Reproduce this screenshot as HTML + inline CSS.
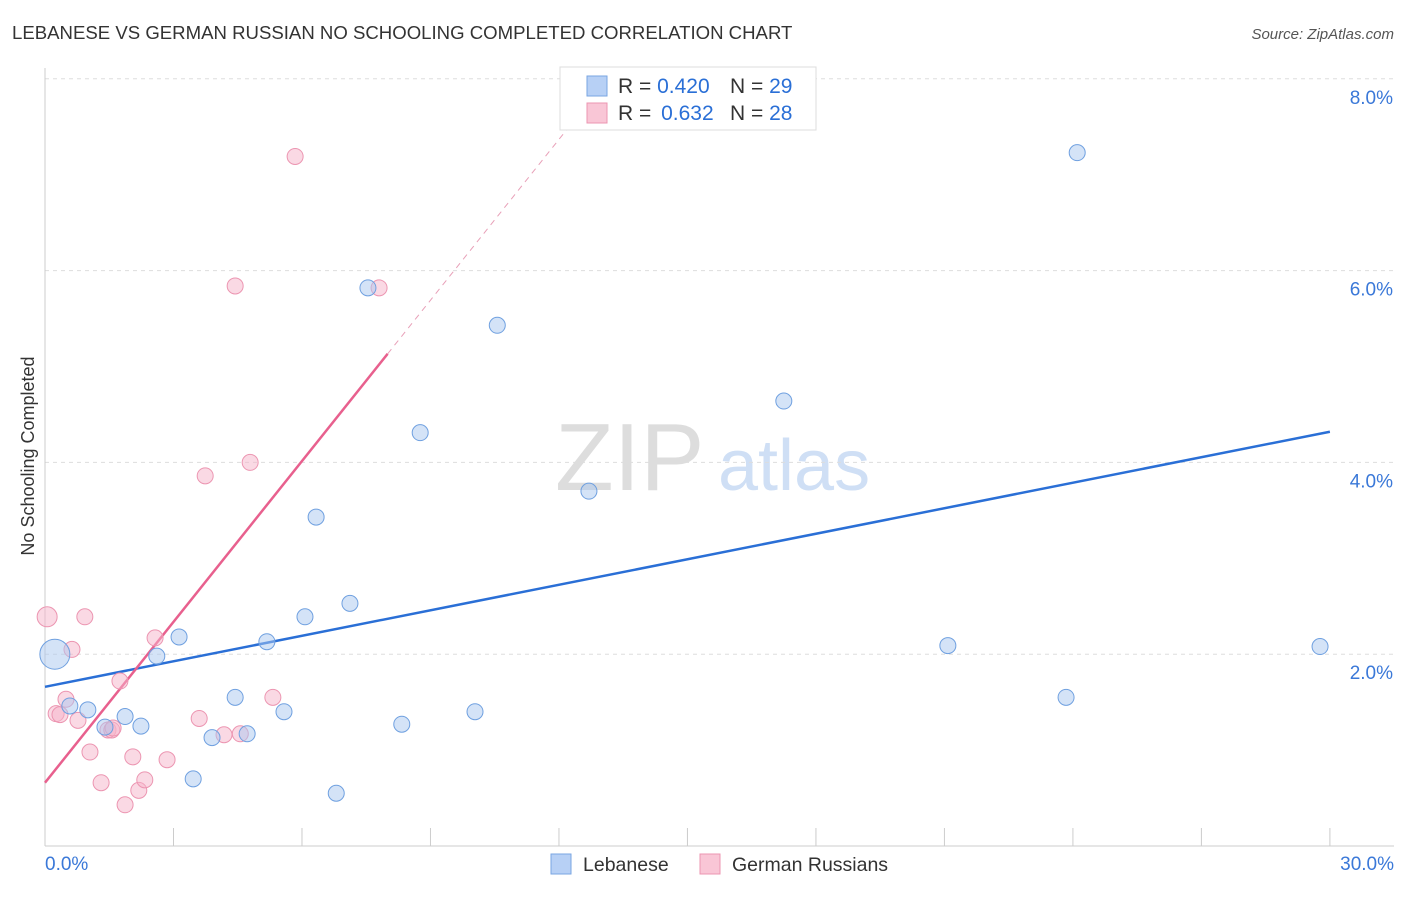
<!DOCTYPE html>
<html><head><meta charset="utf-8"><style>
body{margin:0;background:#fff;font-family:"Liberation Sans",sans-serif}
svg text{font-family:"Liberation Sans",sans-serif}
</style></head><body>
<svg id="c" width="1406" height="892">
<text x="12" y="39" font-size="18.6" fill="#333">LEBANESE VS GERMAN RUSSIAN NO SCHOOLING COMPLETED CORRELATION CHART</text>
<text x="1394" y="39" font-size="15" fill="#555" font-style="italic" text-anchor="end">Source: ZipAtlas.com</text>
<text x="34" y="456" font-size="18" fill="#333" text-anchor="middle" transform="rotate(-90 34 456)">No Schooling Completed</text>
<text x="555" y="490" font-size="96" fill="#ddd" font-family="Liberation Serif">ZIP</text>
<text x="718" y="490" font-size="72" fill="#cfdff5">atlas</text>
<g id="grid"></g><g id="axes"></g><g id="lines"></g><g id="pts"></g>
<g>
<rect x="560" y="67" width="256" height="63" fill="#fff" stroke="#ddd"/>
<rect x="587" y="76" width="20" height="20" fill="#b7d0f5" stroke="#7aa6e2"/>
<rect x="587" y="103" width="20" height="20" fill="#f9c6d6" stroke="#ec95b1"/>
<text x="618" y="93" font-size="21" fill="#333">R = <tspan fill="#2a6fd6">0.420</tspan><tspan x="730">N = </tspan><tspan fill="#2a6fd6">29</tspan></text>
<text x="618" y="120" font-size="21" fill="#333">R = <tspan fill="#2a6fd6" dx="4">0.632</tspan><tspan x="730">N = </tspan><tspan fill="#2a6fd6">28</tspan></text>
</g>
<g>
<rect x="551" y="854" width="20" height="20" fill="#b7d0f5" stroke="#7aa6e2"/>
<text x="583" y="871" font-size="19.5" fill="#333">Lebanese</text>
<rect x="700" y="854" width="20" height="20" fill="#f9c6d6" stroke="#ec95b1"/>
<text x="732" y="871" font-size="19.5" fill="#333">German Russians</text>
</g>
</svg>
<script>
const lebX=[0.23,0.58,1.0,1.40,1.87,2.24,2.61,3.13,3.46,3.90,4.44,4.72,5.18,5.58,6.07,6.33,6.80,7.12,7.54,8.33,8.76,10.04,10.56,12.70,17.25,21.08,23.84,24.10,29.77];
const lebY=[2.0,1.46,1.42,1.24,1.35,1.25,1.98,2.18,0.70,1.13,1.55,1.17,2.13,1.40,2.39,3.43,0.55,2.53,5.82,1.27,4.31,1.40,5.43,3.70,4.64,2.09,1.55,7.23,2.08];
const lebR=[15,8,8,8,8,8,8,8,8,8,8,8,8,8,8,8,8,8,8,8,8,8,8,8,8,8,8,8,8];
const gerX=[0.05,0.26,0.35,0.49,0.63,0.77,0.93,1.05,1.31,1.47,1.56,1.75,1.87,2.05,2.19,2.33,2.57,2.85,3.60,3.74,4.18,4.44,4.56,4.79,5.32,5.84,7.80,1.59];
const gerY=[2.39,1.38,1.37,1.53,2.05,1.31,2.39,0.98,0.66,1.21,1.21,1.72,0.43,0.93,0.58,0.69,2.17,0.90,1.33,3.86,1.16,5.84,1.17,4.00,1.55,7.19,5.82,1.23];
const gerR=[10,8,8,8,8,8,8,8,8,8,8,8,8,8,8,8,8,8,8,8,8,8,8,8,8,8,8,8];
const yTicks=[2,4,6,8];
const xTickLabels=["0.0%","30.0%"];
const lebLine=[1.66,4.32];
const gerLine=[0.66,0.559];
const NS='http://www.w3.org/2000/svg';
const X=v=>45+v*42.83, Y=v=>846-v*95.9;
function mk(p,t,a){const e=document.createElementNS(NS,t);for(const k in a)e.setAttribute(k,a[k]);document.getElementById(p).appendChild(e);return e;}
yTicks.forEach(v=>{
 const g=mk('grid','line',{x1:45,x2:1394,y1:Y(v),y2:Y(v),stroke:'#ddd','stroke-dasharray':'4,4'});
 
 
 const t=mk('grid','text',{x:1393,y:Y(v)+25,'font-size':19,fill:'#3a78d8','text-anchor':'end'});t.textContent=v.toFixed(1)+'%';
 
 
});
mk('axes','line',{x1:45,x2:45,y1:68,y2:846,stroke:'#ccc'});
mk('axes','line',{x1:45,x2:1394,y1:846,y2:846,stroke:'#ccc'});
for(let i=0;i<=10;i++){mk('axes','line',{x1:X(i*3),x2:X(i*3),y1:828,y2:846,stroke:'#ccc'});}
[[0,45,'start'],[30,1394,'end']].forEach((d,i)=>{const t=mk('axes','text',{x:d[1],y:870,'font-size':19,fill:'#3a78d8','text-anchor':d[2]});t.textContent=xTickLabels[i];
 
 });
const bl=mk('lines','line',{x1:X(0),y1:Y(lebLine[0]),x2:X(30),y2:Y(lebLine[1]),stroke:'#2a6fd6','stroke-width':2.5});


const gy=x=>gerLine[0]+gerLine[1]*x;
const pl=mk('lines','line',{x1:X(0),y1:Y(gy(0)),x2:X(8),y2:Y(gy(8)),stroke:'#e8608e','stroke-width':2.5});


const pd=mk('lines','line',{x1:X(8),y1:Y(gy(8)),x2:X(12.3),y2:Y(gy(12.3)),stroke:'#e8a0b8','stroke-width':1,'stroke-dasharray':'6,5'});


gerX.forEach((x,i)=>{const c=mk('pts','circle',{cx:X(x),cy:Y(gerY[i]),r:gerR[i],fill:'rgba(246,180,202,0.5)',stroke:'#ec95b1','stroke-width':1});
 
 });
lebX.forEach((x,i)=>{const c=mk('pts','circle',{cx:X(x),cy:Y(lebY[i]),r:lebR[i],fill:'rgba(170,200,240,0.5)',stroke:'#6fa0e0','stroke-width':1});
 
 });
</script>
</body></html>
